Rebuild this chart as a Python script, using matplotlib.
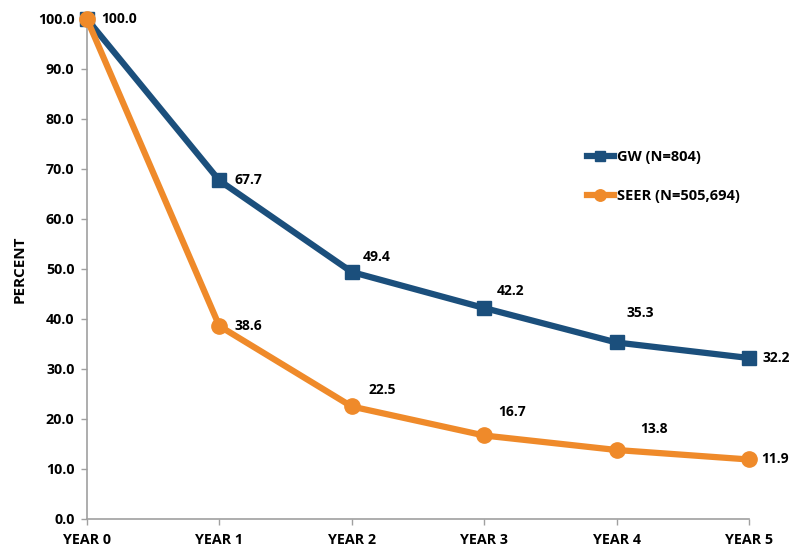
import matplotlib
matplotlib.use("Agg")
import matplotlib.pyplot as plt

# Survival data
years = ["YEAR 0", "YEAR 1", "YEAR 2", "YEAR 3", "YEAR 4", "YEAR 5"]
gw_values = [100.0, 67.7, 49.4, 42.2, 35.3, 32.2]
seer_values = [100.0, 38.6, 22.5, 16.7, 13.8, 11.9]
gw_name = "GW (N=804)"
seer_name = "SEER (N=505,694)"

BLUE = "#1b4f7c"
ORANGE = "#ef8a2a"
FONT = ["Open Sans", "DejaVu Sans"]

plt.rcParams["font.family"] = FONT
plt.rcParams["font.weight"] = "bold"

fig = plt.figure(figsize=(7.9, 5.47), dpi=100)
ax = fig.add_axes([0.110, 0.0512, 0.838, 0.9141])

x = list(range(len(years)))
ax.plot(x, gw_values, color=BLUE, lw=4.5, marker="s", ms=10.5,
        clip_on=False, zorder=3, label=gw_name)
ax.plot(x, seer_values, color=ORANGE, lw=4.5, marker="o", ms=11,
        clip_on=False, zorder=4, label=seer_name)

# Value labels (offsets in points)
gw_offsets = [(10.5, 0), (11, 0), (8, 11), (9, 12), (7, 21), (9.5, 0)]
seer_offsets = [None, (11, 0), (12, 12), (10, 17), (17, 15), (9, 0)]
for i, (v, off) in enumerate(zip(gw_values, gw_offsets)):
    ax.annotate(f"{v:.1f}", (i, v), xytext=off, textcoords="offset points",
                ha="left", va="center", fontsize=10, fontweight="bold",
                annotation_clip=False)
for i, (v, off) in enumerate(zip(seer_values, seer_offsets)):
    if off is None:
        continue
    ax.annotate(f"{v:.1f}", (i, v), xytext=off, textcoords="offset points",
                ha="left", va="center", fontsize=10, fontweight="bold",
                annotation_clip=False)

ax.set_xlim(0, 5)
ax.set_ylim(0, 100)
ax.set_xticks(x)
ax.set_xticklabels(years)
ax.set_yticks(range(0, 101, 10))
ax.set_yticklabels([f"{v:.1f}" for v in range(0, 101, 10)])
ax.tick_params(axis="both", labelsize=10.3, color="#a0a0a0", length=4, width=1)
ax.tick_params(axis="x", pad=6)
ax.tick_params(axis="y", pad=5)
for lbl in ax.get_xticklabels() + ax.get_yticklabels():
    lbl.set_fontweight("bold")

for side in ("top", "right"):
    ax.spines[side].set_visible(False)
for side in ("left", "bottom"):
    ax.spines[side].set_color("#a0a0a0")
    ax.spines[side].set_linewidth(1.2)

ax.set_ylabel("PERCENT", fontsize=11, fontweight="bold", labelpad=8)

leg = ax.legend(loc="upper left", bbox_to_anchor=(0.735, 0.765), frameon=False,
                fontsize=10.5, handlelength=1.9, handletextpad=0.15,
                labelspacing=1.75, markerscale=0.75)
for t in leg.get_texts():
    t.set_fontweight("bold")

fig.savefig("out.png", dpi=100)
